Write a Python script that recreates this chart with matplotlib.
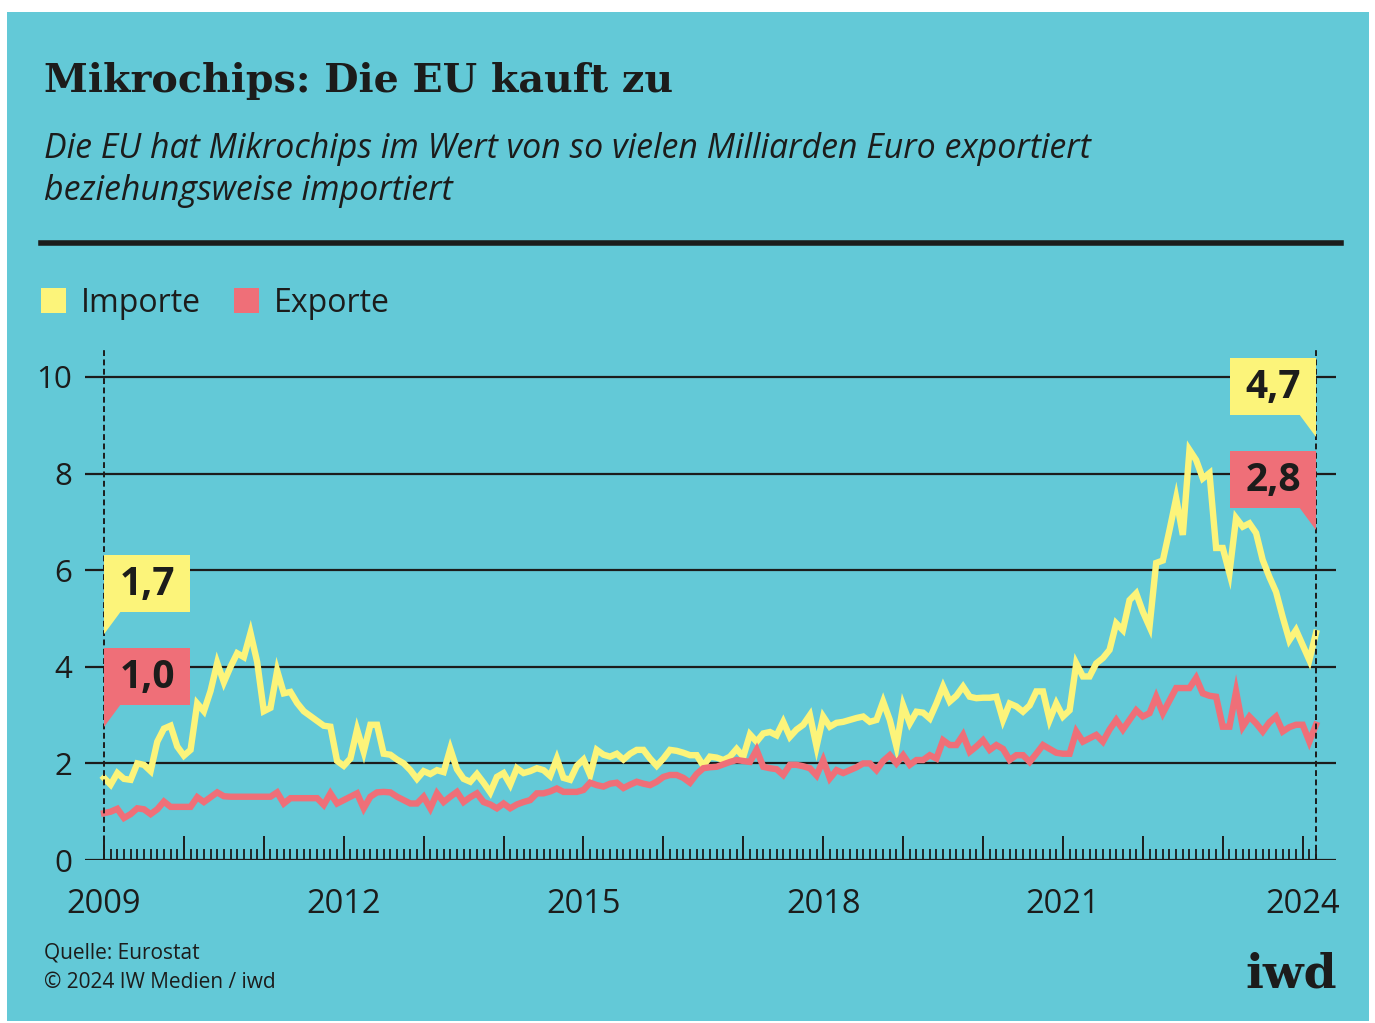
import numpy as np
import matplotlib.pyplot as plt
from matplotlib.patches import Rectangle, Polygon
from matplotlib.lines import Line2D
from matplotlib.transforms import IdentityTransform

W, H = 1375, 1023

# monthly values in billion euro, Jan 2009 - Mar 2024
imports_by_year = {
    2009: [1.70, 1.56, 1.80, 1.68, 1.66, 2.00, 1.97, 1.84, 2.45, 2.72, 2.78, 2.35],
    2010: [2.16, 2.28, 3.24, 3.08, 3.50, 4.08, 3.68, 4.00, 4.28, 4.20, 4.70, 4.10],
    2011: [3.08, 3.15, 3.92, 3.45, 3.48, 3.25, 3.08, 2.98, 2.88, 2.78, 2.76, 2.05],
    2012: [1.95, 2.10, 2.70, 2.24, 2.80, 2.80, 2.20, 2.18, 2.08, 2.00, 1.86, 1.68],
    2013: [1.84, 1.78, 1.86, 1.82, 2.30, 1.88, 1.68, 1.62, 1.78, 1.60, 1.40, 1.72],
    2014: [1.80, 1.56, 1.90, 1.80, 1.84, 1.90, 1.86, 1.74, 2.10, 1.70, 1.66, 1.95],
    2015: [2.08, 1.76, 2.28, 2.18, 2.14, 2.20, 2.08, 2.20, 2.28, 2.28, 2.10, 1.95],
    2016: [2.10, 2.28, 2.26, 2.22, 2.17, 2.17, 1.95, 2.14, 2.12, 2.07, 2.14, 2.30],
    2017: [2.14, 2.60, 2.45, 2.62, 2.65, 2.58, 2.86, 2.55, 2.70, 2.80, 3.00, 2.35],
    2018: [2.97, 2.76, 2.84, 2.86, 2.90, 2.94, 2.97, 2.86, 2.90, 3.28, 2.90, 2.35],
    2019: [3.20, 2.83, 3.07, 3.05, 2.93, 3.24, 3.59, 3.28, 3.40, 3.59, 3.38, 3.35],
    2020: [3.36, 3.36, 3.38, 2.90, 3.24, 3.18, 3.07, 3.20, 3.49, 3.49, 2.90, 3.24],
    2021: [2.97, 3.10, 4.07, 3.80, 3.80, 4.07, 4.18, 4.35, 4.90, 4.76, 5.38, 5.52],
    2022: [5.14, 4.83, 6.15, 6.20, 6.83, 7.49, 6.73, 8.49, 8.28, 7.90, 8.01, 6.46],
    2023: [6.46, 5.94, 7.08, 6.90, 6.97, 6.77, 6.21, 5.86, 5.55, 5.03, 4.55, 4.76],
    2024: [4.45, 4.14, 4.70],
}
exports_by_year = {
    2009: [0.97, 1.00, 1.06, 0.87, 0.95, 1.07, 1.05, 0.95, 1.05, 1.21, 1.10, 1.10],
    2010: [1.10, 1.10, 1.30, 1.20, 1.30, 1.40, 1.32, 1.31, 1.31, 1.31, 1.31, 1.31],
    2011: [1.31, 1.31, 1.40, 1.17, 1.28, 1.28, 1.28, 1.28, 1.28, 1.14, 1.38, 1.17],
    2012: [1.24, 1.31, 1.38, 1.07, 1.31, 1.40, 1.41, 1.40, 1.31, 1.24, 1.17, 1.17],
    2013: [1.31, 1.07, 1.38, 1.20, 1.31, 1.41, 1.20, 1.30, 1.38, 1.20, 1.15, 1.07],
    2014: [1.17, 1.07, 1.15, 1.20, 1.24, 1.38, 1.38, 1.42, 1.48, 1.41, 1.41, 1.41],
    2015: [1.45, 1.60, 1.55, 1.52, 1.58, 1.60, 1.49, 1.56, 1.62, 1.58, 1.55, 1.62],
    2016: [1.72, 1.76, 1.76, 1.70, 1.60, 1.78, 1.90, 1.92, 1.93, 1.98, 2.03, 2.07],
    2017: [2.05, 2.03, 2.28, 1.93, 1.90, 1.88, 1.76, 1.97, 1.97, 1.94, 1.90, 1.75],
    2018: [2.07, 1.69, 1.86, 1.80, 1.86, 1.92, 2.00, 2.00, 1.86, 2.05, 2.17, 2.00],
    2019: [2.17, 1.97, 2.07, 2.07, 2.17, 2.10, 2.48, 2.38, 2.38, 2.59, 2.24, 2.35],
    2020: [2.48, 2.28, 2.38, 2.30, 2.07, 2.17, 2.17, 2.03, 2.20, 2.38, 2.30, 2.22],
    2021: [2.20, 2.20, 2.66, 2.45, 2.52, 2.59, 2.45, 2.70, 2.90, 2.70, 2.90, 3.10],
    2022: [2.97, 3.04, 3.38, 3.04, 3.30, 3.56, 3.56, 3.56, 3.77, 3.45, 3.40, 3.38],
    2023: [2.76, 2.76, 3.49, 2.76, 2.97, 2.83, 2.66, 2.85, 2.97, 2.66, 2.75, 2.80],
    2024: [2.80, 2.45, 2.80],
}
year_labels = [2009, 2012, 2015, 2018, 2021, 2024]
y_ticks = [0, 2, 4, 6, 8, 10]

imports = np.array([v for y in imports_by_year for v in imports_by_year[y]])
exports = np.array([v for y in exports_by_year for v in exports_by_year[y]])
dates = 2009 + np.arange(len(imports)) / 12

TEAL = '#63c9d7'
YELLOW = '#fcf47a'
RED = '#ef6f78'
INK = '#1c1c1b'


def px(x, y):
    # image pixel (from top-left) -> figure fraction
    return x / W, 1 - y / H


fig = plt.figure(figsize=(W / 100, H / 100), dpi=100)
fig.patch.set_facecolor('white')
fig.add_artist(Rectangle(px(7, 1021), 1362 / W, 1009 / H, transform=fig.transFigure,
                         facecolor=TEAL, edgecolor='none', zorder=-10))

# header
fig.text(*px(44, 92), 'Mikrochips: Die EU kauft zu', family='DejaVu Serif',
         weight='bold', fontsize=28.5, color=INK, va='baseline')
fig.text(*px(44, 158), 'Die EU hat Mikrochips im Wert von so vielen Milliarden Euro exportiert',
         family='Open Sans', style='italic', fontsize=24.4, color=INK, va='baseline')
fig.text(*px(44, 200), 'beziehungsweise importiert',
         family='Open Sans', style='italic', fontsize=24.4, color=INK, va='baseline')
fig.add_artist(Line2D([41 / W, 1341 / W], [1 - 243 / H] * 2, lw=4, color=INK))

# legend
for x0, col, name in [(41, YELLOW, 'Importe'), (234, RED, 'Exporte')]:
    fig.add_artist(Rectangle(px(x0, 313), 25 / W, 25 / H, transform=fig.transFigure,
                             facecolor=col, edgecolor='none'))
    fig.text(*px(x0 + 40, 303), name, family='Open Sans', fontsize=23, color=INK, va='center')

# chart
ax = fig.add_axes([85 / W, 1 - 860 / H, (1336 - 85) / W, 512 / H])
ax.set_facecolor('none')
ppy = (1316 - 104) / (dates[-1] - dates[0])
ax.set_xlim(dates[0] - 19 / ppy, dates[0] + (1336 - 104) / ppy)
ax.set_ylim(0, 10.6)
for s in ax.spines.values():
    s.set_visible(False)

for y in y_ticks:
    ax.axhline(y, color=INK, lw=1.6, zorder=1)

ax.plot(dates, imports, color=YELLOW, lw=4.6, solid_joinstyle='miter', zorder=3)
ax.plot(dates, exports, color=RED, lw=4.6, solid_joinstyle='miter', zorder=4)

for xd in [dates[0], dates[-1]]:
    ax.plot([xd, xd], [0, 10.6], color=INK, lw=1.4, linestyle=(0, (3, 1.8)), zorder=5,
            clip_on=False)

ax.set_yticks(y_ticks)
ax.set_yticklabels([str(v) for v in y_ticks])
ax.tick_params(axis='y', length=0, pad=9, labelsize=22.5, labelcolor=INK)

years = np.arange(2009, 2025)
ax.set_xticks(years)
ax.set_xticklabels([str(y) if y in year_labels else '' for y in years])
ax.set_xticks(dates, minor=True)
ax.tick_params(axis='x', which='major', direction='in', length=17, width=1.4,
               color=INK, pad=20, labelsize=23.5, labelcolor=INK)
ax.tick_params(axis='x', which='minor', direction='in', length=8, width=1.3, color=INK)
for lab in ax.get_xticklabels() + ax.get_yticklabels():
    lab.set_family('Open Sans')


# value labels at start and end
def value_label(xd, yd, value, col, side):
    x0, yb = ax.transData.transform((xd, yd))
    bw, bh, tw, th = 86, 57, 17, 22
    if side == 'left':
        box = [(x0, yb), (x0 + bw, yb), (x0 + bw, yb + bh), (x0, yb + bh)]
        tail = [(x0, yb + 1), (x0 + tw, yb + 1), (x0, yb - th)]
        cx = x0 + bw / 2
    else:
        box = [(x0 - bw, yb), (x0, yb), (x0, yb + bh), (x0 - bw, yb + bh)]
        tail = [(x0 - tw, yb + 1), (x0, yb + 1), (x0, yb - th)]
        cx = x0 - bw / 2
    for pts in (box, tail):
        fig.add_artist(Polygon(pts, closed=True, facecolor=col, edgecolor='none',
                               transform=IdentityTransform(), zorder=6))
    fig.text(cx / W, (yb + bh / 2 - 1) / H, f'{value:.1f}'.replace('.', ','),
             family='Open Sans', weight='bold', fontsize=28, color=INK,
             ha='center', va='center', zorder=7)


value_label(dates[0], 5.13, imports[0], YELLOW, 'left')
value_label(dates[0], 3.21, exports[0], RED, 'left')
value_label(dates[-1], 9.21, imports[-1], YELLOW, 'right')
value_label(dates[-1], 7.29, exports[-1], RED, 'right')

# footer
fig.text(*px(44, 953), 'Quelle: Eurostat', family='Open Sans', fontsize=15, color=INK, va='center')
fig.text(*px(44, 983), '© 2024 IW Medien / iwd', family='Open Sans', fontsize=15, color=INK,
         va='center')
fig.text(*px(1337, 988), 'iwd', family='DejaVu Serif', weight='bold', fontsize=34, color=INK,
         ha='right', va='baseline')

fig.savefig('out.png', dpi=100, facecolor=fig.get_facecolor())
